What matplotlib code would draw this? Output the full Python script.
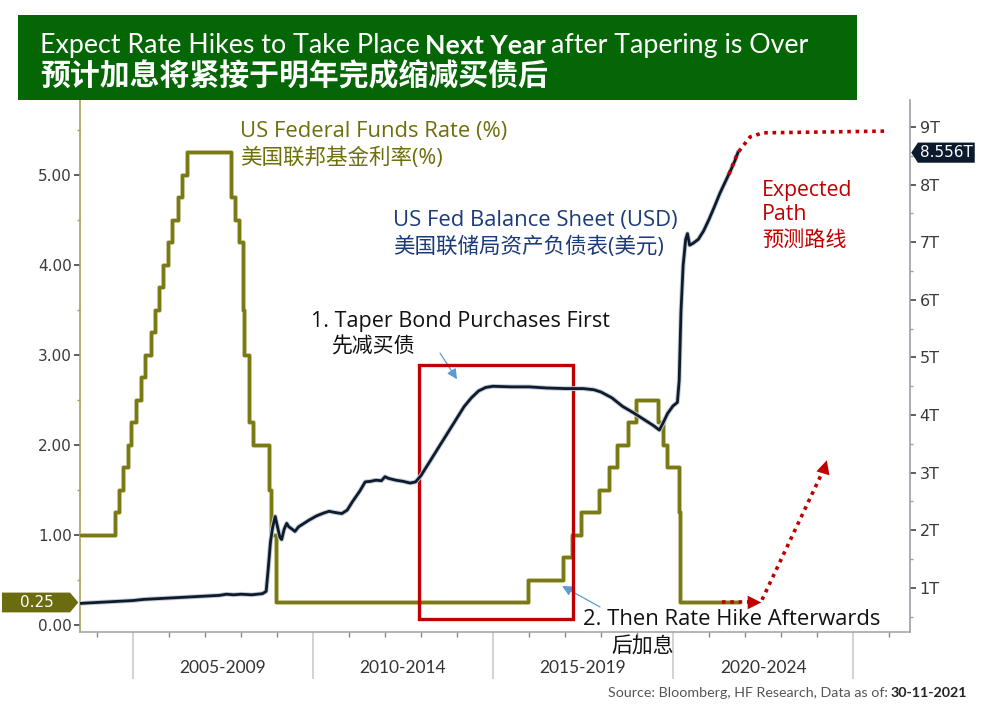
import matplotlib
matplotlib.use('Agg')
import matplotlib.pyplot as plt
import matplotlib.patheffects as pe
from matplotlib.patches import Rectangle, Polygon
from matplotlib.ticker import MultipleLocator, FixedLocator

plt.rcParams['font.family'] = ['Open Sans', 'Noto Sans CJK SC', 'DejaVu Sans']

# US fed funds target rate (upper bound, %), step changes
ffr_dates = [2003.53, 2004.49, 2004.61, 2004.72, 2004.86, 2004.96, 2005.09, 2005.22,
             2005.34, 2005.50, 2005.61, 2005.72, 2005.84, 2005.96, 2006.08, 2006.24,
             2006.36, 2006.49, 2007.71, 2007.83, 2007.95, 2008.06, 2008.08, 2008.21,
             2008.33, 2008.77, 2008.83, 2008.96, 2015.96, 2016.95, 2017.20, 2017.45,
             2017.95, 2018.22, 2018.45, 2018.74, 2018.97, 2019.58, 2019.71, 2019.83,
             2020.17, 2020.20, 2021.80]
ffr_rates = [1.00, 1.25, 1.50, 1.75, 2.00, 2.25, 2.50, 2.75,
             3.00, 3.25, 3.50, 3.75, 4.00, 4.25, 4.50, 4.75,
             5.00, 5.25, 4.75, 4.50, 4.25, 3.50, 3.00, 2.25,
             2.00, 1.50, 1.00, 0.25, 0.50, 0.75, 1.00, 1.25,
             1.50, 1.75, 2.00, 2.25, 2.50, 2.25, 2.00, 1.75,
             1.25, 0.25, 0.25]

# Fed balance sheet (USD trillions)
bs_dates = [2003.53, 2003.8, 2004.1, 2004.4, 2004.7, 2005.0, 2005.3, 2005.6, 2005.9,
            2006.2, 2006.5, 2006.8, 2007.1, 2007.4, 2007.6, 2007.8, 2008.0, 2008.3,
            2008.6, 2008.70, 2008.76, 2008.82, 2008.88, 2008.95, 2009.00, 2009.08,
            2009.13, 2009.2, 2009.27, 2009.33, 2009.42, 2009.5, 2009.6, 2009.75,
            2009.9, 2010.1, 2010.3, 2010.45, 2010.6, 2010.8, 2010.95, 2011.1, 2011.3,
            2011.45, 2011.6, 2011.75, 2011.9, 2012.0, 2012.1, 2012.3, 2012.5, 2012.7,
            2012.85, 2013.0, 2013.2, 2013.4, 2013.6, 2013.8, 2014.0, 2014.2, 2014.4,
            2014.6, 2014.8, 2015.0, 2015.5, 2016.0, 2016.5, 2017.0, 2017.5, 2017.8,
            2018.0, 2018.3, 2018.6, 2018.9, 2019.2, 2019.45, 2019.62, 2019.72, 2019.85,
            2020.0, 2020.12, 2020.17, 2020.22, 2020.28, 2020.35, 2020.40, 2020.46,
            2020.55, 2020.7, 2020.85, 2021.0, 2021.15, 2021.3, 2021.45, 2021.6,
            2021.72, 2021.80]
bs_values = [0.73, 0.74, 0.75, 0.76, 0.77, 0.78, 0.80, 0.81, 0.82,
             0.83, 0.84, 0.85, 0.86, 0.87, 0.89, 0.88, 0.89, 0.88,
             0.90, 0.94, 1.35, 1.80, 2.05, 2.24, 2.10, 1.88,
             1.84, 2.02, 2.12, 2.06, 2.02, 1.98, 2.06, 2.12,
             2.18, 2.25, 2.30, 2.33, 2.31, 2.29, 2.35, 2.50, 2.68,
             2.84, 2.85, 2.87, 2.86, 2.93, 2.90, 2.87, 2.85, 2.82,
             2.84, 2.95, 3.15, 3.35, 3.55, 3.75, 3.95, 4.15, 4.30,
             4.42, 4.48, 4.50, 4.49, 4.49, 4.47, 4.46, 4.46, 4.44,
             4.40, 4.30, 4.15, 4.04, 3.92, 3.82, 3.74, 3.86, 4.03,
             4.16, 4.22, 4.60, 5.80, 6.60, 7.05, 7.15, 6.95,
             6.98, 7.05, 7.20, 7.40, 7.62, 7.85, 8.05, 8.25,
             8.42, 8.556]

# expected paths (red dotted)
bs_path_dates = [2021.55, 2021.80, 2022.14, 2022.5, 2025.9]
bs_path_values = [8.18, 8.556, 8.83, 8.90, 8.93]
rate_flat_dates = [2021.36, 2022.30]
rate_flat_values = [0.25, 0.25]
rate_up_dates = [2022.47, 2024.15]
rate_up_values = [0.28, 1.70]

period_starts = [2005, 2010, 2015, 2020]
period_labels = ['2005-2009', '2010-2014', '2015-2019', '2020-2024']

taper_start, taper_end = 2012.95, 2017.22
taper_low, taper_high = 0.07, 2.89

olive = '#7a7a14'
olive_text = '#6e6e0c'
navy = '#0d1b2e'
navy_text = '#1b3a7a'
red = '#c00000'
blue = '#5b9bd5'

fig = plt.figure(figsize=(9.85, 7.18), dpi=100)
ax = fig.add_axes([80/985, 86/718, 830/985, 532/718])
ax2 = ax.twinx()

ax.step(ffr_dates, ffr_rates, where='post', color=olive, lw=2.5, zorder=3,
        path_effects=[pe.withStroke(linewidth=3.5, foreground='#d9d9b8')])
ax2.plot(bs_dates, bs_values, color=navy, lw=2.0, zorder=3,
         path_effects=[pe.withStroke(linewidth=3.4, foreground='#c5cad3')])

# expected paths
ax2.plot(bs_path_dates, bs_path_values, color=red, lw=2.6, ls=(0, (1, 1.3)), zorder=4)
ax.plot(rate_flat_dates, rate_flat_values, color=red, lw=2.6, ls=(0, (1, 1.3)), zorder=4)
ax.plot(rate_up_dates, rate_up_values, color=red, lw=2.6, ls=(0, (1, 1.3)), zorder=4)
head = dict(arrowstyle='-|>,head_length=0.7,head_width=0.35', color=red, lw=0,
            shrinkA=0, shrinkB=0, mutation_scale=14)
ax.annotate('', xy=(2022.45, 0.25), xytext=(2022.25, 0.25), arrowprops=head, zorder=5)
ax.annotate('', xy=(2024.27, 1.83), xytext=(2024.12, 1.63), arrowprops=head, zorder=5)

# taper box
ax.add_patch(Rectangle((taper_start, taper_low), taper_end - taper_start, taper_high - taper_low,
                       fill=False, ec=red, lw=2.4, zorder=4))

# axes limits
ax.set_xlim(2003.53, 2026.58)
ax.set_ylim(-0.078, 5.833)
ax2.set_ylim(0.234, 9.47)

# spines
for s in ['top', 'right']:
    ax.spines[s].set_visible(False)
for s in ['top', 'left', 'bottom']:
    ax2.spines[s].set_visible(False)
ax.spines['left'].set_color('#a3a35a')
ax.spines['left'].set_linewidth(1.2)
ax.spines['bottom'].set_color('#a8a8a8')
ax.spines['bottom'].set_linewidth(1.2)
ax2.spines['right'].set_color('#9aa0a8')
ax2.spines['right'].set_linewidth(1.2)

# left ticks
ax.yaxis.set_major_locator(FixedLocator([0, 1, 2, 3, 4, 5]))
ax.yaxis.set_minor_locator(MultipleLocator(0.5))
ax.set_yticklabels(['%.2f' % v for v in [0, 1, 2, 3, 4, 5]])
ax.tick_params(axis='y', which='major', length=4, width=1.2, color='#444', pad=2,
               labelsize=11, labelcolor='#3a3a3a', labelfontfamily='DejaVu Sans')
ax.tick_params(axis='y', which='minor', length=2, width=1, color='#a3a35a')

# right ticks
ax2.yaxis.set_major_locator(FixedLocator(list(range(1, 10))))
ax2.yaxis.set_minor_locator(MultipleLocator(0.5))
ax2.set_yticklabels(['%dT' % v for v in range(1, 10)])
ax2.tick_params(axis='y', which='major', length=4, width=1.2, color='#444', pad=3,
                labelsize=11.5, labelcolor='#3a3a3a', labelfontfamily='DejaVu Sans')
ax2.tick_params(axis='y', which='minor', length=2, width=1, color='#9aa0a8')

# bottom ticks: year ticks and period separators
ax.xaxis.set_major_locator(FixedLocator(period_starts + [2025]))
ax.xaxis.set_minor_locator(MultipleLocator(1))
ax.tick_params(axis='x', which='major', length=34, width=1.3, color='#cfcfcf', labelbottom=False)
ax.tick_params(axis='x', which='minor', length=3.5, width=1, color='#888')
for start, lab in zip(period_starts, period_labels):
    ax.text(start + 2.5, -0.068, lab, transform=ax.get_xaxis_transform(), ha='center',
            va='center', fontsize=12.5, color='#333', family='Lato')

# value tags
tag_r = ffr_rates[-1]
ax.add_patch(Polygon([(-0.094, tag_r - 0.11), (-0.012, tag_r - 0.11), (-0.002, tag_r),
                      (-0.012, tag_r + 0.11), (-0.094, tag_r + 0.11)], closed=True,
                     transform=ax.get_yaxis_transform(), clip_on=False, fc='#6b6b10',
                     ec='none', zorder=6))
ax.text(-0.052, tag_r, '%.2f' % tag_r, transform=ax.get_yaxis_transform(), ha='center',
        va='center', color='white', fontsize=11, family='DejaVu Sans', zorder=7)
tag_b = bs_values[-1]
ax2.add_patch(Polygon([(1.0015, tag_b), (1.0095, tag_b + 0.175), (1.078, tag_b + 0.175),
                       (1.078, tag_b - 0.175), (1.0095, tag_b - 0.175)], closed=True,
                      transform=ax2.get_yaxis_transform(), clip_on=False, fc='#0b1a2c',
                      ec='none', zorder=6))
ax2.text(1.044, tag_b, '%.3fT' % tag_b, transform=ax2.get_yaxis_transform(), ha='center',
         va='center', color='white', fontsize=11, family='DejaVu Sans', zorder=7)

# series labels
ax.text(2007.97, 5.48, 'US Federal Funds Rate (%)', color=olive_text, fontsize=15.8,
        ha='left', va='center')
ax.text(2007.97, 5.19, '美国联邦基金利率(%)', color=olive_text, fontsize=15.5,
        ha='left', va='center')
ax.text(2012.22, 4.49, 'US Fed Balance Sheet (USD)', color=navy_text, fontsize=15.8,
        ha='left', va='center')
ax.text(2012.22, 4.20, '美国联储局资产负债表(美元)', color=navy_text, fontsize=15.5,
        ha='left', va='center')
ax.text(2022.47, 4.83, 'Expected', color=red, fontsize=15.3, ha='left', va='center')
ax.text(2022.47, 4.56, 'Path', color=red, fontsize=15.3, ha='left', va='center')
ax.text(2022.47, 4.27, '预测路线', color=red, fontsize=15.2, ha='left', va='center')

# annotations
ax.text(2009.95, 3.37, '1. Taper Bond Purchases First', color='#111', fontsize=15.5,
        ha='left', va='center')
ax.text(2010.5, 3.09, '先减买债', color='#111', fontsize=15, ha='left', va='center')
thin = dict(arrowstyle='-|>,head_length=0.5,head_width=0.25', color=blue, lw=0.9,
            shrinkA=0, shrinkB=0, mutation_scale=12)
ax.annotate('', xy=(2014.0, 2.73), xytext=(2013.53, 3.02), arrowprops=thin)
ax.text(2017.5, 0.056, '2. Then Rate Hike Afterwards', color='#111', fontsize=15.8,
        ha='left', va='center', zorder=8)
ax.text(2018.28, -0.233, '后加息', color='#111', fontsize=15, ha='left', va='center',
        clip_on=False)
ax.annotate('', xy=(2016.92, 0.433), xytext=(2017.97, 0.20), arrowprops=thin)

# title banner
fig.patches.append(Rectangle((18/985, 618/718), 839/985, 85/718, transform=fig.transFigure,
                             fc='#056605', ec='none', zorder=0))
t1 = fig.text(40/985, 660/718, 'Expect Rate Hikes to Take Place', color='white',
              fontsize=19.3, family='Lato', ha='left', va='bottom')
t2 = fig.text(0, 0, 'Next Year', color='white', fontsize=19.3, family='Lato',
              fontweight='bold', ha='left', va='bottom')
t3 = fig.text(0, 0, 'after Tapering is Over', color='white', fontsize=19.3, family='Lato',
              ha='left', va='bottom')
fig.canvas.draw()
r = fig.canvas.get_renderer()
inv = fig.transFigure.inverted()
bb = t1.get_window_extent(r)
t2.set_position(inv.transform((bb.x1 + 5.5, bb.y0)))
fig.canvas.draw()
bb = t2.get_window_extent(r)
t3.set_position(inv.transform((bb.x1 + 5.5, bb.y0)))
fig.text(40/985, 642/718, '预计加息将紧接于明年完成缩减买债后', color='white', fontsize=21.5,
         family='Noto Sans CJK SC', fontweight='bold', ha='left', va='center')

# source
s2 = fig.text(967/985, 25/718, '30-11-2021', color='#222', fontsize=10.3, family='Lato',
              fontweight='bold', ha='right', va='center')
fig.canvas.draw()
bb = s2.get_window_extent(r)
fig.text(*inv.transform((bb.x0 - 3, (bb.y0 + bb.y1) / 2)),
         'Source: Bloomberg, HF Research, Data as of:', color='#555', fontsize=10.3,
         family='Lato', ha='right', va='center')

fig.savefig('out.png', dpi=100)
